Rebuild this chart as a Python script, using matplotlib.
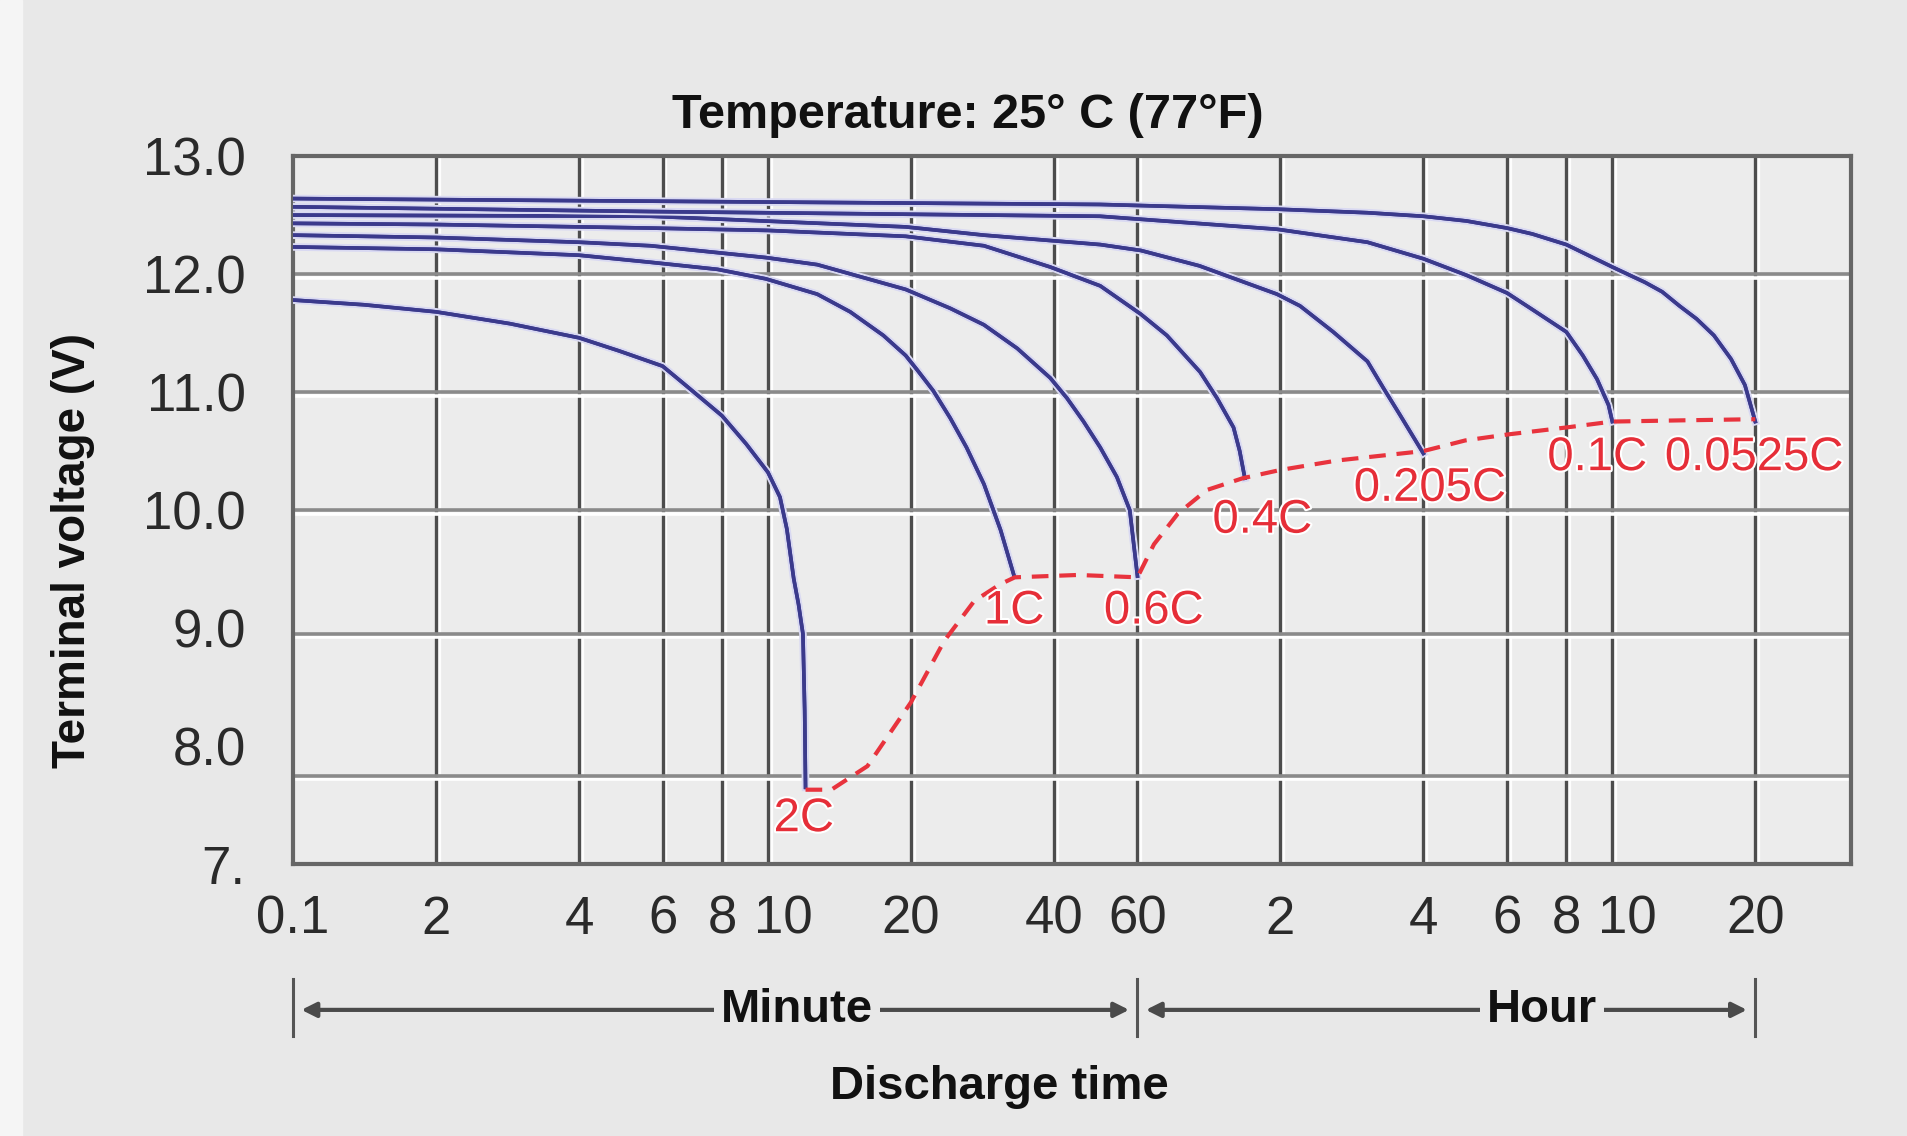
import matplotlib
matplotlib.use('Agg')
import matplotlib.pyplot as plt
import matplotlib.patheffects as pe
import matplotlib.transforms as mtrans
from matplotlib.patches import Rectangle

plt.rcParams['font.family'] = ['Liberation Sans', 'DejaVu Sans']

# discharge time (minutes) and terminal voltage (V) for each rate
t_2c = [1, 1.41, 2, 2.86, 4, 4.85, 6, 6.7, 8, 9, 10, 10.6, 10.96, 11.33, 11.6, 11.85, 11.95, 12.0]
v_2c = [11.78, 11.74, 11.68, 11.58, 11.46, 11.35, 11.22, 11.06, 10.80, 10.56, 10.32, 10.11,
        9.84, 9.42, 9.2, 8.95, 8.3, 7.65]

t_1c = [1, 2, 4, 5.66, 7.83, 9.89, 12.7, 14.9, 17.5, 19.5, 20.6, 22.3, 24.2, 26.2, 28.5, 30.9, 33]
v_1c = [12.23, 12.21, 12.16, 12.10, 12.04, 11.96, 11.83, 11.68, 11.48, 11.31, 11.19, 11.01,
        10.78, 10.53, 10.22, 9.83, 9.44]

t_06c = [1, 2, 4, 5.66, 9.89, 12.7, 19.5, 24.2, 28.5, 33.5, 39.3, 42.6, 46.2, 50.1, 54.3, 57.8, 60]
v_06c = [12.33, 12.31, 12.27, 12.24, 12.14, 12.08, 11.87, 11.71, 11.57, 11.37, 11.12, 10.95,
         10.75, 10.53, 10.28, 10.0, 9.44]

t_04c = [1, 2, 5.66, 10, 19.5, 28.5, 39.3, 50.1, 61, 69.2, 81.3, 88.2, 95.6, 98.5, 101]
v_04c = [12.43, 12.42, 12.39, 12.37, 12.32, 12.24, 12.06, 11.90, 11.66, 11.48, 11.17, 10.95,
         10.70, 10.50, 10.27]

t_0205c = [1, 5.66, 19.5, 28.5, 50.1, 61, 81, 118, 132, 155, 183, 198, 214, 240]
v_0205c = [12.50, 12.49, 12.40, 12.33, 12.25, 12.20, 12.07, 11.83, 11.73, 11.51, 11.26, 11.03,
           10.81, 10.48]

t_01c = [1, 5.66, 50, 118, 183, 240, 296, 360, 407, 480, 520, 557, 589, 600]
v_01c = [12.57, 12.53, 12.49, 12.38, 12.27, 12.13, 11.99, 11.84, 11.70, 11.51, 11.31, 11.11,
         10.89, 10.75]

t_00525c = [1, 50, 118, 183, 240, 296, 360, 407, 480, 600, 703, 764, 831, 903, 982, 1067, 1141, 1200]
v_00525c = [12.64, 12.59, 12.55, 12.52, 12.49, 12.45, 12.39, 12.34, 12.25, 12.06, 11.93, 11.85,
            11.73, 11.62, 11.48, 11.28, 11.06, 10.75]

# end-of-discharge line
t_end = [12.0, 13.6, 16.2, 20, 23.5, 27.2, 30.8, 33.1, 45, 60, 65, 73, 84, 100,
         120, 158, 240, 294, 360, 480, 600, 830, 1200]
v_end = [7.63, 7.63, 7.83, 8.37, 8.89, 9.23, 9.37, 9.43, 9.45, 9.43, 9.71, 9.97, 10.17, 10.27,
         10.34, 10.42, 10.50, 10.59, 10.64, 10.70, 10.75, 10.76, 10.77]

rate_names = ['2C', '1C', '0.6C', '0.4C', '0.205C', '0.1C', '0.0525C']
label_t = [11.9, 33, 65, 110, 248, 558, 1195]
label_v = [7.38, 9.14, 9.14, 9.91, 10.18, 10.44, 10.44]

x_ticks = [1, 2, 4, 6, 8, 10, 20, 40, 60, 120, 240, 360, 480, 600, 1200]
x_labels = ['0.1', '2', '4', '6', '8', '10', '20', '40', '60', '2', '4', '6', '8', '10', '20']
y_ticks = [7, 8, 9, 10, 11, 12, 13]
y_labels = ['7.', '8.0', '9.0', '10.0', '11.0', '12.0', '13.0']
h_grid = [12, 11, 10, 8.95, 7.75]

bg = '#e8e8e8'
fig = plt.figure(figsize=(19.08, 11.36), dpi=100, facecolor=bg)
fig.patches.append(Rectangle((0, 0), 22 / 1908, 1, transform=fig.transFigure,
                             color='#f5f5f5', zorder=0))
ax = fig.add_axes([0.1536, 0.2394, 0.8166, 0.6232])
ax.set_facecolor('#ececec')
ax.set_xscale('log')
ax.set_xlim(1, 1910)
ax.set_ylim(7, 13)

# grid with a light emboss
for t in x_ticks[1:]:
    ax.axvline(t, color='#4d4d4d', lw=2.4, zorder=1,
               path_effects=[pe.SimpleLineShadow(offset=(2, 0), shadow_color='white', alpha=0.9),
                             pe.Normal()])
for v in h_grid:
    ax.axhline(v, color='#8a8a8a', lw=2.6, zorder=1,
               path_effects=[pe.SimpleLineShadow(offset=(0, -2.5), shadow_color='white', alpha=1),
                             pe.Normal()])

curves = [(t_2c, v_2c), (t_1c, v_1c), (t_06c, v_06c), (t_04c, v_04c),
          (t_0205c, v_0205c), (t_01c, v_01c), (t_00525c, v_00525c)]
for t, v in curves:
    ax.plot(t, v, color='#3b3a8c', lw=2.6, zorder=3, solid_joinstyle='round',
            path_effects=[pe.withStroke(linewidth=5.5, foreground='#d9d9f2'), pe.Normal()])

ax.plot(t_end, v_end, color='#e8333d', lw=3, ls=(0, (4, 2.6)), zorder=4)

for name, t, v in zip(rate_names, label_t, label_v):
    ax.text(t, v, name, color='#e62e38', fontsize=34, ha='center', va='center', zorder=5,
            path_effects=[pe.withStroke(linewidth=3, foreground='white')])

ax.set_xticks(x_ticks)
ax.set_xticklabels(x_labels)
ax.xaxis.set_minor_locator(matplotlib.ticker.NullLocator())
ax.set_yticks(y_ticks)
ax.set_yticklabels(y_labels)
ax.tick_params(axis='both', length=0, labelsize=38, colors='#2a2a2a')
ax.tick_params(axis='x', pad=22)
ax.tick_params(axis='y', pad=34)

# the "10" labels sit a little right of their gridlines
for i in (5, 13):
    lab = ax.get_xticklabels()[i]
    lab.set_transform(lab.get_transform() + mtrans.ScaledTranslation(0.15, 0, fig.dpi_scale_trans))

for s in ax.spines.values():
    s.set_color('#666666')
    s.set_linewidth(3)

fig.text(0.507, 0.898, 'Temperature: 25° C (77°F)', fontsize=35, fontweight='bold',
         ha='center', va='center', color='#111111')
fig.text(0.038, 0.515, 'Terminal voltage (V)', fontsize=33, fontweight='bold',
         rotation=90, ha='center', va='center', color='#111111')
fig.text(0.524, 0.043, 'Discharge time', fontsize=34, fontweight='bold',
         ha='center', va='center', color='#111111')

# Minute / Hour range arrows under the axis
xt = ax.get_xaxis_transform()
arrow_y = -0.206
for a, b in [(1, 60), (60, 1200)]:
    ax.annotate('', xy=(a, arrow_y), xytext=(b, arrow_y), xycoords=xt, textcoords=xt,
                annotation_clip=False,
                arrowprops=dict(arrowstyle='<|-|>', color='#4a4a4a', lw=3,
                                mutation_scale=22, shrinkA=6, shrinkB=6))
for t in [1, 60, 1200]:
    ax.plot([t, t], [-0.163, -0.243], transform=xt, clip_on=False, color='#555555', lw=2.2)
for name, t in [('Minute', 11.5), ('Hour', 426)]:
    ax.text(t, arrow_y, name, transform=xt, fontsize=34, fontweight='bold', ha='center',
            va='center', color='#111111',
            bbox=dict(boxstyle='square,pad=0.15', facecolor=bg, edgecolor='none'))

fig.savefig('out.png', dpi=100, facecolor=fig.get_facecolor())
